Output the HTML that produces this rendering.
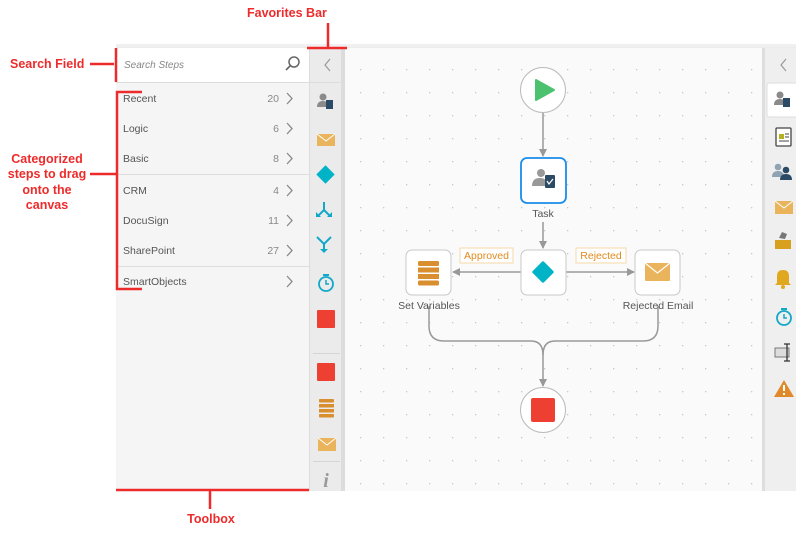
<!DOCTYPE html>
<html><head><meta charset="utf-8"><style>
body{margin:0;width:796px;height:531px;background:#fff;overflow:hidden;font-family:"Liberation Sans",sans-serif}
</style></head><body>
<svg width="796" height="531" viewBox="0 0 796 531" xmlns="http://www.w3.org/2000/svg" font-family="Liberation Sans, sans-serif">
<defs>
<pattern id="dots" x="3" y="0" width="23" height="23" patternUnits="userSpaceOnUse">
<rect x="12" y="0" width="1.3" height="1.3" fill="#c8c8c8"/>
</pattern>
<marker id="ar" markerWidth="8" markerHeight="8" refX="7" refY="4" orient="auto" markerUnits="userSpaceOnUse"><path d="M0,0 L8,4 L0,8 z" fill="#999"/></marker>
</defs>
<!-- app frame -->
<rect x="116" y="47" width="680" height="444" fill="#f5f5f5"/>
<rect x="116" y="44" width="680" height="4" fill="#e6e6e6" opacity=".6"/>
<!-- canvas -->
<rect x="345" y="48" width="418" height="443" fill="#fafafa"/>
<rect x="345" y="48" width="418" height="443" fill="url(#dots)"/>
<!-- search -->
<rect x="116" y="48" width="193" height="34" fill="#fff"/>
<line x1="116" y1="82.5" x2="309" y2="82.5" stroke="#ddd"/>
<text x="124" y="68" font-size="10" font-style="italic" fill="#888">Search Steps</text>
<circle cx="294" cy="62" r="5" fill="none" stroke="#666" stroke-width="1.5"/>
<line x1="290" y1="66" x2="286" y2="70" stroke="#666" stroke-width="1.6"/>
<!-- categories -->
<g font-size="10.5" fill="#555">
<text x="123" y="102">Recent</text><text x="279" y="102" text-anchor="end" fill="#888">20</text>
<text x="123" y="132">Logic</text><text x="279" y="132" text-anchor="end" fill="#888">6</text>
<text x="123" y="162">Basic</text><text x="279" y="162" text-anchor="end" fill="#888">8</text>
<text x="123" y="194">CRM</text><text x="279" y="194" text-anchor="end" fill="#888">4</text>
<text x="123" y="224">DocuSign</text><text x="279" y="224" text-anchor="end" fill="#888">11</text>
<text x="123" y="254">SharePoint</text><text x="279" y="254" text-anchor="end" fill="#888">27</text>
<text x="123" y="285">SmartObjects</text>
</g>
<g fill="none" stroke="#888" stroke-width="1.3">
<path d="M287,93 L292,98.5 L287,104"/><path d="M287,123 L292,128.5 L287,134"/><path d="M287,153 L292,158.5 L287,164"/>
<path d="M287,185 L292,190.5 L287,196"/><path d="M287,215 L292,220.5 L287,226"/><path d="M287,245 L292,250.5 L287,256"/><path d="M287,276 L292,281.5 L287,287"/>
</g>
<line x1="116" y1="174.5" x2="309" y2="174.5" stroke="#ddd"/>
<line x1="116" y1="266.5" x2="309" y2="266.5" stroke="#ddd"/>
<!-- favorites bar -->
<rect x="309" y="48" width="35" height="443" fill="#ebebeb"/>
<line x1="309.5" y1="48" x2="309.5" y2="491" stroke="#ddd"/>
<rect x="341" y="48" width="4" height="443" fill="#dcdcdc"/>
<path d="M330,59 L325,65 L330,71" fill="none" stroke="#999" stroke-width="1.2"/>
<line x1="309" y1="82.5" x2="344" y2="82.5" stroke="#ddd"/>
<!-- fav icons -->
<circle cx="323" cy="97" r="3.5" fill="#8a8a8a"/><path d="M317,107 q0,-6 6,-6 q4,0 5,3 v3z" fill="#8a8a8a"/><rect x="326" y="100" width="7" height="9" fill="#2a4a66"/>
<rect x="317" y="134" width="18" height="12" fill="#e9b45c"/><path d="M317,134 L326,141 L335,134" fill="none" stroke="#fff" stroke-width="1"/>
<rect x="319" y="168" width="13" height="13" fill="#00b3c7" transform="rotate(45 325.5 174.5)"/>
<g stroke="#12a9c8" stroke-width="2" fill="none"><path d="M324,202 v8 l-6,6 M324,210 l6,6"/></g>
<path d="M316,212 v5 h5z M332,212 v5 h-5z" fill="#12a9c8"/>
<g stroke="#12a9c8" stroke-width="2" fill="none"><path d="M317,237 l7,7 l7,-7 M324,244 v6"/></g><path d="M320,249 h8 l-4,4z" fill="#12a9c8"/>
<circle cx="326" cy="284" r="7" fill="none" stroke="#12a9c8" stroke-width="1.8"/><path d="M326,280 v4 h3" stroke="#12a9c8" fill="none" stroke-width="1.5"/><rect x="323" y="274" width="6" height="2" fill="#12a9c8"/>
<rect x="317" y="310" width="18" height="18" rx="1" fill="#ee3f33"/>
<line x1="313" y1="353.5" x2="340" y2="353.5" stroke="#d5d5d5"/>
<rect x="317" y="363" width="18" height="18" rx="1" fill="#ee3f33"/>
<g fill="#d98e2f"><rect x="319" y="399" width="15" height="3.5" rx="1"/><rect x="319" y="404" width="15" height="3.5"/><rect x="319" y="409" width="15" height="3.5"/><rect x="319" y="414" width="15" height="3.5" rx="1"/></g>
<rect x="318" y="438" width="18" height="13" fill="#e9b45c"/><path d="M318,438 L327,445 L336,438" fill="none" stroke="#fff" stroke-width="1"/>
<line x1="313" y1="461.5" x2="340" y2="461.5" stroke="#d5d5d5"/>
<text x="326" y="487" font-size="20" font-style="italic" font-weight="bold" fill="#9a9a9a" text-anchor="middle" font-family="Liberation Serif, serif">i</text>
<!-- right bar -->
<rect x="763" y="48" width="33" height="443" fill="#efefef"/>
<rect x="762" y="48" width="3" height="443" fill="#dedede"/>
<path d="M786,59 L781,65 L786,71" fill="none" stroke="#999" stroke-width="1.2"/>
<rect x="767" y="83" width="30" height="34" rx="2" fill="#fff" stroke="#ddd"/>
<circle cx="780" cy="95" r="3.5" fill="#8a8a8a"/><path d="M774,105 q0,-6 6,-6 q4,0 5,3 v3z" fill="#8a8a8a"/><rect x="783" y="98" width="7" height="9" fill="#2a4a66"/>
<rect x="776" y="128" width="15" height="18" rx="1" fill="#fff" stroke="#444" stroke-width="1.3"/><rect x="779" y="134" width="5" height="5" fill="#b5b020"/><path d="M785,134h4M785,137h4M779,141h10" stroke="#444"/>
<circle cx="778" cy="167" r="3.3" fill="#8fa3b5"/><path d="M772,177 q0,-6 6,-6 q6,0 6,6z" fill="#8fa3b5"/><circle cx="786" cy="170" r="3.3" fill="#2a4a66"/><path d="M780,180 q0,-6 6,-6 q6,0 6,6z" fill="#2a4a66"/>
<rect x="775" y="201" width="18" height="13" fill="#e9b45c"/><path d="M775,201 L784,208 L793,201" fill="none" stroke="#fff"/>
<rect x="775" y="240" width="16" height="9" fill="#d7a01e"/><path d="M779,238 l3,-6 l5,2 l-2,5z" fill="#777"/>
<path d="M777,283 v-7 q0,-6 6,-6 q6,0 6,6 v7 l2,2 h-16z" fill="#e0a81e"/><circle cx="783" cy="287" r="2" fill="#e0a81e"/>
<circle cx="784" cy="318" r="7" fill="none" stroke="#12a9c8" stroke-width="1.8"/><path d="M784,314 v4 h3" stroke="#12a9c8" fill="none" stroke-width="1.5"/><rect x="781" y="308" width="6" height="2" fill="#12a9c8"/>
<rect x="775" y="348" width="14" height="9" fill="#ddd" stroke="#777"/><path d="M787,344 v17 M784,344h6 M784,361h6" stroke="#333" stroke-width="1.3"/>
<path d="M784,380 L794,397 H774z" fill="#e08a2a"/><rect x="783" y="385" width="2" height="6" fill="#fff"/><rect x="783" y="393" width="2" height="2" fill="#fff"/>
<!-- connectors -->
<g stroke="#999" stroke-width="1.5" fill="none">
<line x1="543" y1="112" x2="543" y2="156" marker-end="url(#ar)"/>
<line x1="543" y1="222" x2="543" y2="248" marker-end="url(#ar)"/>
<line x1="521" y1="272" x2="453" y2="272" marker-end="url(#ar)"/>
<line x1="566" y1="272" x2="634" y2="272" marker-end="url(#ar)"/>
<path d="M429,306 V326 Q429,341 444,341 H531 Q543,341 543,355"/>
<path d="M658,306 V326 Q658,341 643,341 H555 Q543,341 543,355"/>
<line x1="543" y1="355" x2="543" y2="386" marker-end="url(#ar)"/>
</g>
<!-- nodes -->
<circle cx="543" cy="90" r="22.5" fill="#fff" stroke="#bbb"/>
<path d="M536,80 L554,90 L536,100z" fill="#4cc26e" stroke="#4cc26e" stroke-linejoin="round" stroke-width="2"/>
<rect x="521" y="158" width="45" height="45" rx="6" fill="#fff" stroke="#1a8de9" stroke-width="1.8"/>
<circle cx="541" cy="173" r="4" fill="#999"/><path d="M532,186 q0,-8 8,-8 q5,0 6,3 v5z" fill="#999"/><rect x="545" y="175" width="10" height="13" rx="1" fill="#2a4a66"/><path d="M547,181 l2,3 l4,-5" stroke="#fff" fill="none" stroke-width="1.2"/>
<text x="543" y="217" font-size="10.5" fill="#555" text-anchor="middle">Task</text>
<rect x="521" y="250" width="45" height="45" rx="6" fill="#fff" stroke="#c8c8c8"/>
<rect x="535" y="264" width="16" height="16" rx="1.5" fill="#00b3c7" transform="rotate(45 543 272)"/>
<rect x="406" y="250" width="45" height="45" rx="6" fill="#fff" stroke="#c8c8c8"/>
<g fill="#d98e2f"><rect x="418" y="261" width="21" height="5" rx="1.5"/><rect x="418" y="267.5" width="21" height="5"/><rect x="418" y="274" width="21" height="5"/><rect x="418" y="280.5" width="21" height="5" rx="1.5"/></g>
<text x="429" y="309" font-size="10.5" fill="#555" text-anchor="middle">Set Variables</text>
<rect x="635" y="250" width="45" height="45" rx="6" fill="#fff" stroke="#c8c8c8"/>
<rect x="645" y="263" width="25" height="18" rx="1" fill="#e9b45c"/><path d="M645,263 L657.5,273 L670,263" fill="none" stroke="#fff" stroke-width="1.2"/>
<text x="658" y="309" font-size="10.5" fill="#555" text-anchor="middle">Rejected Email</text>
<rect x="460" y="248" width="53" height="15" fill="#fff" stroke="#f5d9a8"/>
<text x="486.5" y="259" font-size="10.5" fill="#e08a1e" text-anchor="middle">Approved</text>
<rect x="576" y="248" width="50" height="15" fill="#fff" stroke="#f5d9a8"/>
<text x="601" y="259" font-size="10.5" fill="#e08a1e" text-anchor="middle">Rejected</text>
<circle cx="543" cy="410" r="22.5" fill="#fff" stroke="#bbb"/>
<rect x="531" y="398" width="24" height="24" rx="2" fill="#ee3f33"/>
<!-- annotations -->
<g fill="#ee2b2b" font-weight="bold" font-size="12.5">
<text x="247" y="17">Favorites Bar</text>
<text x="10" y="68">Search Field</text>
<text x="47" y="163" text-anchor="middle">Categorized</text>
<text x="47" y="178" text-anchor="middle">steps to drag</text>
<text x="47" y="194" text-anchor="middle">onto the</text>
<text x="47" y="209" text-anchor="middle">canvas</text>
<text x="211" y="523" text-anchor="middle">Toolbox</text>
</g>
<g stroke="#ee2b2b" stroke-width="2.5" fill="none">
<line x1="328" y1="23" x2="328" y2="48"/><line x1="307" y1="48" x2="347" y2="48"/>
<line x1="90" y1="64" x2="114" y2="64"/><line x1="116" y1="48" x2="116" y2="82"/>
<path d="M142,92 H117 V289 H142"/><line x1="90" y1="174" x2="117" y2="174"/>
<line x1="116" y1="490" x2="309" y2="490"/><line x1="210" y1="490" x2="210" y2="509"/>
</g>
</svg>
</body></html>
